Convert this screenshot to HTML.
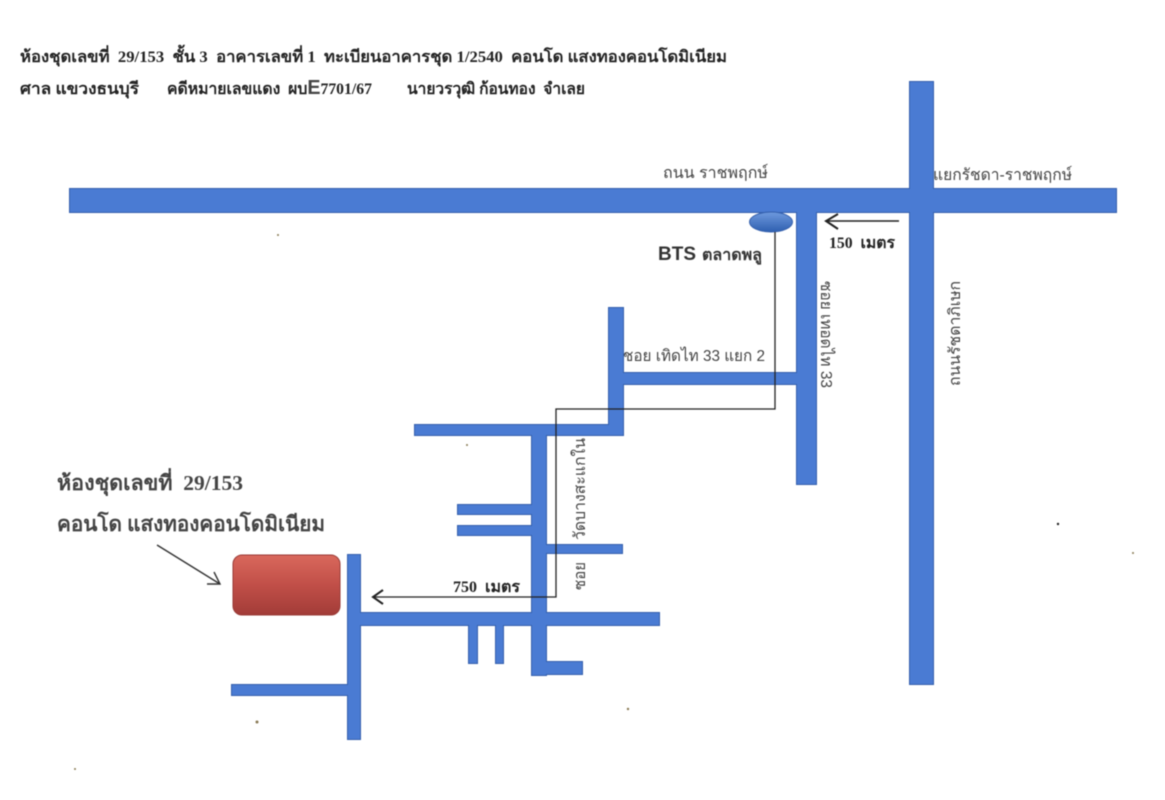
<!DOCTYPE html>
<html lang="th"><head><meta charset="utf-8">
<style>
html,body{margin:0;padding:0;background:#fff;width:1165px;height:800px;overflow:hidden}
svg{display:block;filter:blur(.45px)}
text{font-family:"Liberation Serif","Noto Serif CJK SC",serif;fill:#222}
.b{font-weight:bold}
.s{font-family:"Liberation Sans","Noto Sans CJK SC",sans-serif;fill:#444}
</style></head><body>
<svg width="1165" height="800" viewBox="0 0 1165 800" xmlns="http://www.w3.org/2000/svg">
<defs>
<linearGradient id="red" x1="0" y1="0" x2="0" y2="1"><stop offset="0" stop-color="#d9685c"/><stop offset=".5" stop-color="#c14f48"/><stop offset="1" stop-color="#a23c38"/></linearGradient>
<linearGradient id="el" x1="0" y1="0" x2="0" y2="1"><stop offset="0" stop-color="#6f9ade"/><stop offset="1" stop-color="#2e5fb0"/></linearGradient>
<g id="roads">
<rect x="70" y="189" width="1046" height="23"/>
<rect x="797" y="211" width="19" height="273"/>
<rect x="910" y="82" width="23" height="602"/>
<rect x="622" y="373" width="175" height="11"/>
<rect x="609" y="308" width="14" height="127"/>
<rect x="415" y="425" width="208" height="10"/>
<rect x="532" y="435" width="14" height="240"/>
<rect x="458" y="505" width="75" height="9"/>
<rect x="458" y="526" width="75" height="9"/>
<rect x="546" y="545" width="76" height="8"/>
<rect x="360" y="613" width="299" height="12"/>
<rect x="469" y="625" width="8" height="38"/>
<rect x="496" y="625" width="7" height="38"/>
<rect x="533" y="662" width="49" height="12"/>
<rect x="348" y="555" width="12" height="184"/>
<rect x="232" y="685" width="116" height="10"/>
</g>
</defs>
<rect width="1165" height="800" fill="#fff"/>
<text class="b" x="20" y="62" font-size="16" textLength="707" lengthAdjust="spacingAndGlyphs">ห้องชุดเลขที่&#160; 29/153&#160; ชั้น 3&#160; อาคารเลขที่ 1&#160; ทะเบียนอาคารชุด 1/2540&#160; คอนโด แสงทองคอนโดมิเนียม</text>
<text class="b" x="20" y="94" font-size="16" textLength="119" lengthAdjust="spacingAndGlyphs">ศาล แขวงธนบุรี</text>
<text class="b" x="167" y="94" font-size="16" textLength="205" lengthAdjust="spacingAndGlyphs">คดีหมายเลขแดง&#160; ผบ<tspan class="s" font-size="20" font-weight="bold" fill="#222">E</tspan>7701/67</text>
<text class="b" x="407" y="94" font-size="16" textLength="178" lengthAdjust="spacingAndGlyphs">นายวรวุฒิ ก้อนทอง&#160; จำเลย</text>

<use href="#roads" fill="#3560ad" stroke="#3560ad" stroke-width="2"/>
<use href="#roads" fill="#4a7bd3" stroke="none"/>

<ellipse cx="771" cy="222" rx="21.5" ry="10" fill="url(#el)" stroke="#3560ad"/>
<rect x="233" y="555" width="107" height="60" rx="9" fill="url(#red)" stroke="#9a3a36"/>

<polyline points="775,232 775,409 556,409 556,597 373,597" fill="none" stroke="#222" stroke-width="1.3"/>
<polyline points="383,590 373,597 383,604" fill="none" stroke="#222" stroke-width="2"/>
<line x1="899" y1="221" x2="826" y2="221" stroke="#222" stroke-width="1.6"/>
<polyline points="838,214 826,221 838,229" fill="none" stroke="#222" stroke-width="2"/>
<line x1="157" y1="545" x2="220" y2="584" stroke="#333" stroke-width="1.4"/>
<polyline points="207,584 220,584 214,572" fill="none" stroke="#333" stroke-width="1.4"/>

<text class="s" x="663" y="178" font-size="16" textLength="105" lengthAdjust="spacingAndGlyphs">ถนน ราชพฤกษ์</text>
<text class="s" x="933" y="180" font-size="16" textLength="139" lengthAdjust="spacingAndGlyphs">แยกรัชดา-ราชพฤกษ์</text>
<text class="b" x="829" y="248" font-size="16" textLength="66" lengthAdjust="spacingAndGlyphs">150&#160; เมตร</text>
<text class="s" x="658" y="260" font-size="19" font-weight="bold" style="fill:#333">BTS</text>
<text class="s" x="702" y="260" font-size="16" font-weight="bold" style="fill:#333" textLength="60" lengthAdjust="spacingAndGlyphs">ตลาดพลู</text>
<text class="s" x="623" y="361" font-size="16" textLength="142" lengthAdjust="spacingAndGlyphs">ชอย เทิดไท 33 แยก 2</text>
<text class="b" x="453" y="592" font-size="16" textLength="67" lengthAdjust="spacingAndGlyphs">750&#160; เมตร</text>
<text class="b" x="57" y="490" font-size="21" textLength="186" lengthAdjust="spacingAndGlyphs" style="fill:#444">ห้องชุดเลขที่&#160; 29/153</text>
<text class="b" x="57" y="531" font-size="21" textLength="268" lengthAdjust="spacingAndGlyphs" style="fill:#444">คอนโด แสงทองคอนโดมิเนียม</text>

<text class="s" font-size="16" transform="translate(821,281) rotate(90)" textLength="107" lengthAdjust="spacingAndGlyphs">ซอย เทอดไท 33</text>
<text class="s" font-size="16" transform="translate(960,386) rotate(-90)" textLength="105" lengthAdjust="spacingAndGlyphs">ถนนรัชดาภิเษก</text>
<text class="s" font-size="16" transform="translate(585,590) rotate(-90)" textLength="28" lengthAdjust="spacingAndGlyphs">ซอย</text>
<text class="s" font-size="16" transform="translate(585,540) rotate(-90)" textLength="102" lengthAdjust="spacingAndGlyphs">วัดบางสะแกใน</text>

<g fill="#8a7a55">
<circle cx="257" cy="722" r="1.5"/><circle cx="278" cy="235" r="1"/><circle cx="1058" cy="524" r="1.2" fill="#222"/>
<circle cx="628" cy="709" r="1.2"/><circle cx="75" cy="769" r="1"/><circle cx="1133" cy="553" r="1"/><circle cx="467" cy="445" r="1"/>
</g>
</svg>
</body></html>
